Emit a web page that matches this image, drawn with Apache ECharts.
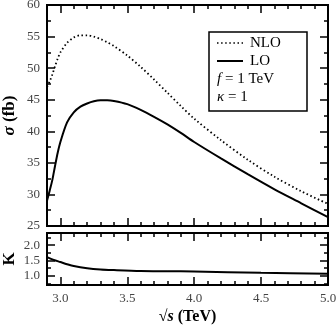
<!DOCTYPE html>
<html>
<head>
<meta charset="utf-8">
<script src="https://cdn.jsdelivr.net/npm/echarts@6/dist/echarts.min.js"></script>
<style>
  html, body { margin: 0; padding: 0; background: #fff; }
  #chart { width: 336px; height: 327px; }
</style>
</head>
<body>
<div id="chart"></div>
<script>
// sqrt(s) in TeV
const sqrtS = [2.90, 2.92, 2.94, 2.96, 2.98, 3.00, 3.05, 3.10, 3.15, 3.20, 3.25, 3.30, 3.35,
               3.40, 3.50, 3.60, 3.70, 3.80, 3.90, 4.00, 4.20, 4.40, 4.60, 4.80, 5.00];
// cross sections (fb)
const sigmaNLO = [47.0, 47.9, 49.0, 50.3, 51.5, 52.5, 54.0, 54.85, 55.2, 55.2, 55.0, 54.6, 54.1,
                  53.5, 52.0, 50.2, 48.2, 46.1, 44.0, 42.0, 38.6, 35.5, 32.8, 30.5, 28.5];
const sigmaLO = [29.0, 30.6, 32.3, 34.5, 36.6, 38.3, 41.4, 43.0, 43.9, 44.4, 44.75, 44.9, 44.9,
                 44.8, 44.3, 43.4, 42.3, 41.1, 39.75, 38.3, 35.7, 33.2, 30.8, 28.6, 26.4];
// K factor
const kS = [2.90, 2.95, 3.00, 3.05, 3.10, 3.20, 3.30, 3.40, 3.60, 3.80, 4.00, 4.50, 5.00];
const kVal = [1.61, 1.52, 1.45, 1.38, 1.32, 1.25, 1.21, 1.19, 1.16, 1.15, 1.14, 1.10, 1.07];

const xMajor = [3.0, 3.5, 4.0, 4.5, 5.0];
const xMinor = [3.1, 3.2, 3.3, 3.4, 3.6, 3.7, 3.8, 3.9, 4.1, 4.2, 4.3, 4.4, 4.6, 4.7, 4.8, 4.9];
const kMajor = [1.0, 1.5, 2.0];
const kMinor = [0.75, 1.25, 1.75, 2.25];

const serif = 'Liberation Serif';
const tickLine = { color: '#000', width: 1.5 };
const labelStyle = { fontFamily: serif, fontSize: 13, color: '#444' };
const dots = [1.5, 2.6];

const zip = (a, b) => a.map((v, i) => [v, b[i]]);

const mainRect = { left: 47, right: 8, top: 5, height: 221, outerBoundsMode: 'none' };
const kRect = { left: 47, right: 8, top: 233, height: 52, outerBoundsMode: 'none' };

function xAx(grid, pos, ticks, len, withLabels) {
  return {
    type: 'value', gridIndex: grid, position: pos, min: 2.9, max: 5.0,
    splitLine: { show: false },
    axisLine: { show: false },
    axisTick: { show: true, inside: true, length: len, lineStyle: tickLine, customValues: ticks },
    axisLabel: withLabels
      ? Object.assign({ show: true, margin: 7, customValues: xMajor, formatter: v => v.toFixed(1) }, labelStyle)
      : { show: false }
  };
}

function kY(grid, pos, ticks, len, withLabels) {
  return {
    type: 'value', gridIndex: grid, position: pos, min: 0.7, max: 2.4,
    splitLine: { show: false },
    axisLine: { show: false },
    axisTick: { show: true, inside: true, length: len, lineStyle: tickLine, customValues: ticks },
    axisLabel: withLabels
      ? Object.assign({ show: true, margin: 7, customValues: kMajor, formatter: v => v.toFixed(1) }, labelStyle)
      : { show: false }
  };
}

function legendText(y, text) {
  return {
    type: 'text',
    style: { x: 250, y: y, text: text, verticalAlign: 'middle', fontFamily: serif, fontSize: 15, fill: '#000' }
  };
}

function noteText(y, sym, rest) {
  return {
    type: 'text',
    style: {
      x: 217, y: y, text: '{i|' + sym + '}' + rest, verticalAlign: 'middle',
      fontFamily: serif, fontSize: 15, fill: '#000',
      rich: { i: { fontFamily: serif, fontSize: 15, fontStyle: 'italic', fill: '#000' } }
    }
  };
}

const chart = echarts.init(document.getElementById('chart'));
chart.setOption({
  animation: false,
  backgroundColor: '#fff',
  grid: [
    Object.assign({ show: true, borderColor: '#000', borderWidth: 2 }, mainRect),
    Object.assign({ show: true, borderColor: '#000', borderWidth: 2 }, kRect),
    Object.assign({}, mainRect),
    Object.assign({}, kRect)
  ],
  graphic: [
    { type: 'rect', shape: { x: 209, y: 32, width: 98, height: 79 },
      style: { fill: '#fff', stroke: '#000', lineWidth: 1.5 } },
    { type: 'line', shape: { x1: 217, y1: 43, x2: 243, y2: 43 },
      style: { stroke: '#000', lineWidth: 1.6, lineDash: dots } },
    legendText(43, 'NLO'),
    { type: 'line', shape: { x1: 217, y1: 61, x2: 243, y2: 61 },
      style: { stroke: '#000', lineWidth: 2 } },
    legendText(61, 'LO'),
    noteText(79, 'f', ' = 1 TeV'),
    noteText(97, 'κ', ' = 1')
  ],
  xAxis: [
    xAx(0, 'bottom', xMajor, 8, false),
    xAx(0, 'top', xMajor, 8, false),
    Object.assign(xAx(1, 'bottom', xMajor, 8, true), {
      name: '{r|√}{s|s} (TeV)', nameLocation: 'middle', nameGap: 24,
      nameTextStyle: {
        fontFamily: serif, fontSize: 16, fontWeight: 'bold', color: '#000',
        rich: {
          r: { fontFamily: serif, fontSize: 16, fontWeight: 'bold', color: '#000' },
          s: { fontFamily: serif, fontSize: 16, fontWeight: 'bold', fontStyle: 'italic', color: '#000' }
        }
      }
    }),
    xAx(1, 'top', xMajor, 8, false),
    xAx(2, 'bottom', xMinor, 4, false),
    xAx(2, 'top', xMinor, 4, false),
    xAx(3, 'bottom', xMinor, 4, false),
    xAx(3, 'top', xMinor, 4, false)
  ],
  yAxis: [
    {
      type: 'value', gridIndex: 0, position: 'left', min: 25, max: 60, interval: 5,
      splitLine: { show: false }, axisLine: { show: false },
      axisTick: { show: true, inside: true, length: 8, lineStyle: tickLine },
      minorTick: { show: true, splitNumber: 2, length: 4, lineStyle: tickLine },
      axisLabel: Object.assign({ margin: 7 }, labelStyle),
      name: '{g|σ} (fb)', nameLocation: 'middle', nameGap: 29, nameRotate: 90, nameMoveOverlap: false,
      nameTextStyle: {
        fontFamily: serif, fontSize: 17, fontWeight: 'bold', color: '#000',
        rich: { g: { fontFamily: serif, fontSize: 17, fontWeight: 'bold', fontStyle: 'italic', color: '#000' } }
      }
    },
    {
      type: 'value', gridIndex: 0, position: 'right', min: 25, max: 60, interval: 5,
      splitLine: { show: false }, axisLine: { show: false },
      axisTick: { show: true, inside: true, length: 8, lineStyle: tickLine },
      minorTick: { show: true, splitNumber: 2, length: 4, lineStyle: tickLine },
      axisLabel: { show: false }
    },
    Object.assign(kY(1, 'left', kMajor, 8, true), {
      name: 'K', nameLocation: 'middle', nameGap: 29, nameRotate: 90, nameMoveOverlap: false,
      nameTextStyle: { fontFamily: serif, fontSize: 17, fontWeight: 'bold', color: '#000' }
    }),
    kY(1, 'right', kMajor, 8, false),
    { type: 'value', gridIndex: 2, show: false, min: 25, max: 60 },
    kY(3, 'left', kMinor, 4, false),
    kY(3, 'right', kMinor, 4, false)
  ],
  series: [
    {
      name: 'NLO', type: 'line', xAxisIndex: 0, yAxisIndex: 0,
      data: zip(sqrtS, sigmaNLO), smooth: 0.3, symbol: 'none', z: 1,
      lineStyle: { color: '#000', width: 1.8, type: dots }
    },
    {
      name: 'LO', type: 'line', xAxisIndex: 0, yAxisIndex: 0,
      data: zip(sqrtS, sigmaLO), smooth: 0.3, symbol: 'none', z: 1,
      lineStyle: { color: '#000', width: 2 }
    },
    {
      name: 'K', type: 'line', xAxisIndex: 2, yAxisIndex: 2,
      data: zip(kS, kVal), smooth: 0.3, symbol: 'none',
      lineStyle: { color: '#000', width: 2 }
    }
  ]
});
</script>
</body>
</html>
